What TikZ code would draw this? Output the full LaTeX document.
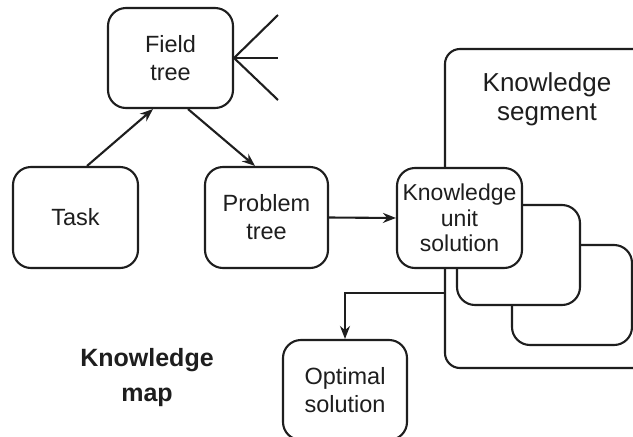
\documentclass[tikz,border=0pt]{standalone}
\usepackage{fontspec}
\setmainfont{Liberation Sans}
\usetikzlibrary{arrows.meta,calc}
\definecolor{ink}{HTML}{1E1E1E}
\tikzset{
  box/.style={draw=ink, line width=2.1pt, rounded corners=18pt, fill=white,
    inner sep=0pt, align=center, text=ink,
    font=\fontsize{23.5}{28}\selectfont},
  seg/.style={draw=ink, line width=2.1pt, rounded corners=15pt, fill=white, inner sep=0pt},
  link/.style={draw=ink, line width=2.1pt},
  arr/.style={link, -{Stealth[length=13pt,width=10pt]}},
}
\begin{document}
\begin{tikzpicture}[x=1pt,y=-1pt]
\clip (0,0) rectangle (633,437);
\fill[white] (0,0) rectangle (633,437);
% knowledge segment and stacked units
\node[seg, minimum width=235pt, minimum height=319pt] (seg) at (562.5,208.5) {};
\node[text=ink, align=center, font=\fontsize{26}{29}\selectfont] (segtxt) at (547,99) {Knowledge\\segment};
\node[box, minimum width=120pt, minimum height=100pt] (u3) at (572,295) {};
\node[box, minimum width=123pt, minimum height=100pt] (u2) at (518.5,255) {};
\node[box, minimum width=125pt, minimum height=100pt, font=\fontsize{23}{25.5}\selectfont] (ku) at (459.5,218) {Knowledge\\unit\\solution};
% other boxes
\node[box, minimum width=125pt, minimum height=100pt] (field) at (170.5,58) {Field\\tree};
\node[box, minimum width=125pt, minimum height=101pt] (task) at (75.5,217.5) {Task};
\node[box, minimum width=123pt, minimum height=101pt] (prob) at (266.5,217.5) {Problem\\tree};
\node[box, minimum width=124pt, minimum height=100pt] (opt) at (345,390) {Optimal\\solution};
\node[text=ink, align=center, font=\bfseries\fontsize{25}{35}\selectfont] (map) at (147,378) {Knowledge\\map};
% fan
\coordinate (f1) at (278,15);
\coordinate (f2) at (278,58);
\coordinate (f3) at (278,100);
\draw[link] (f1) -- (field.east) -- (f3);
\draw[link] (field.east) -- (f2);
% connectors
\draw[arr] ($(task.north)+(11.5,0)$) -- ($(field.south)+(-17.5,0)$);
\draw[arr] ($(field.south)+(17.5,0)$) -- ($(prob.north)+(-11.5,0)$);
\draw[arr] (prob.east) -- (ku.west);
\draw[arr] ($(seg.west)+(0,84.5)$) -| (opt.north);
\end{tikzpicture}
\end{document}
